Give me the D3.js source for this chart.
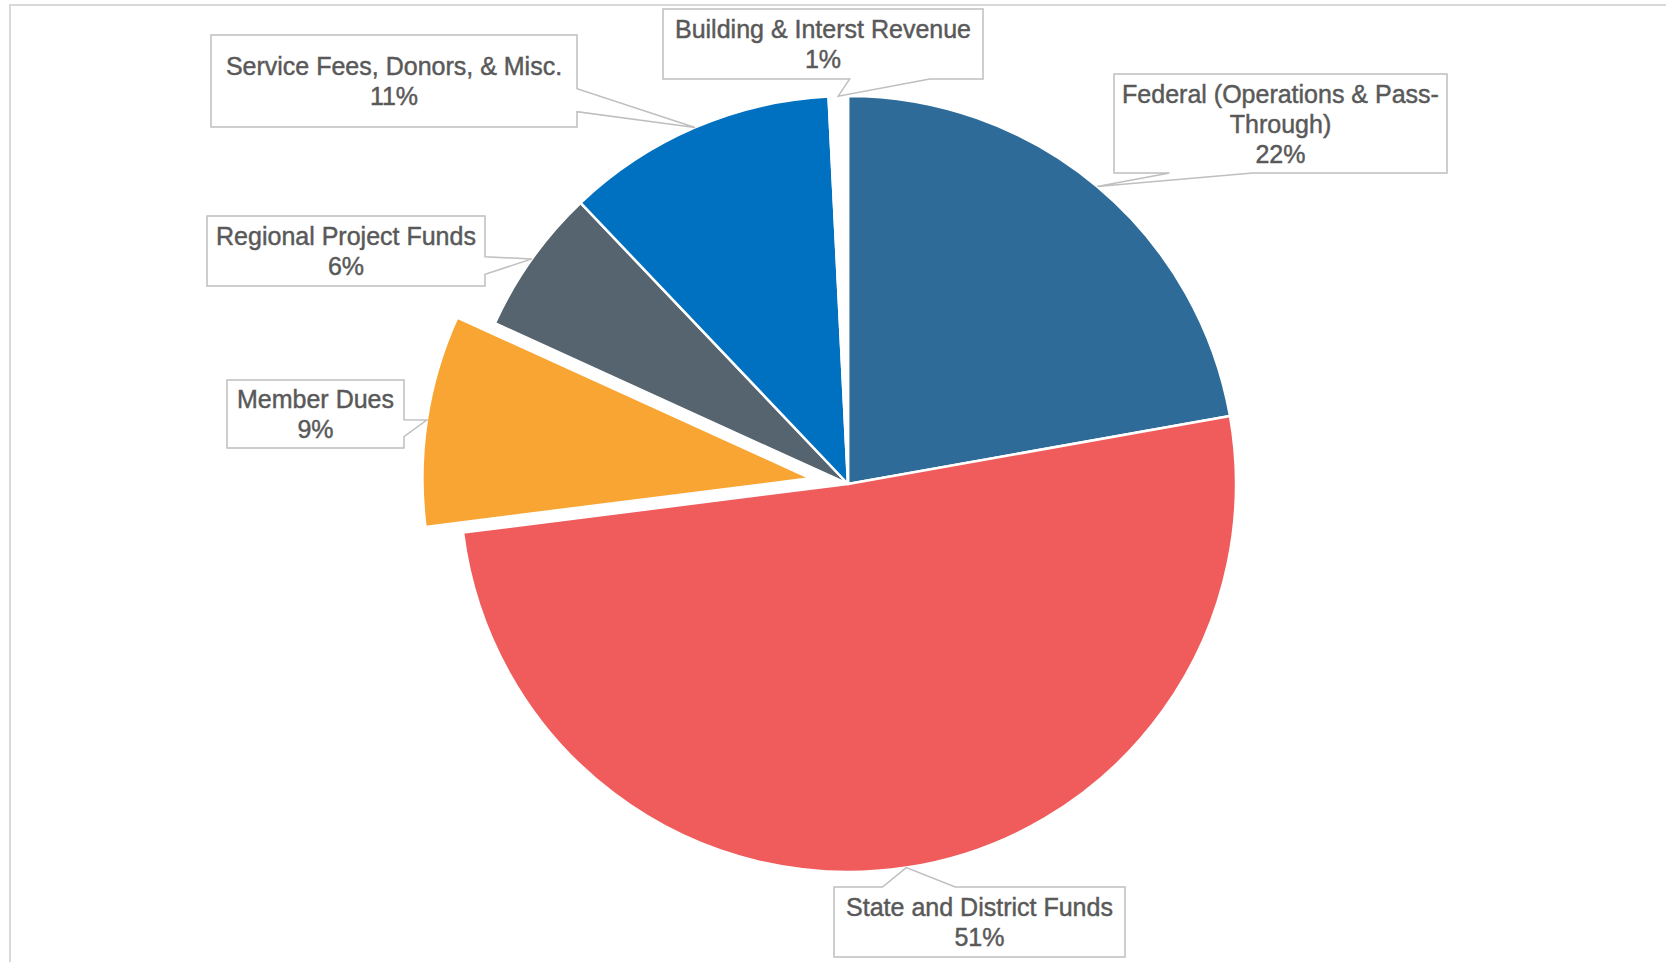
<!DOCTYPE html>
<html>
<head>
<meta charset="utf-8">
<script src="https://cdn.jsdelivr.net/npm/d3@7"></script>
<style>
  body { margin: 0; background: #fff; }
  .label-text {
    font-family: "Liberation Sans", Arial, sans-serif;
    fill: #595959;
    stroke: #595959;
    stroke-width: 0.45px;
  }
</style>
</head>
<body>
<svg id="wrapper"></svg>
<script>
// 1. Data
const categories = [
  "Federal (Operations & Pass-|Through)",
  "State and District Funds",
  "Member Dues",
  "Regional Project Funds",
  "Service Fees, Donors, & Misc.",
  "Building & Interst Revenue"
];
const shares = [22.2, 50.8, 8.8, 6.1, 11.3, 0.8];
const colors = ["#2E6B98", "#F05B5B", "#F9A533", "#55646E", "#0070C0", "#FFFFFF"];
const exploded = [0, 0, 38, 0, 0, 0];

// callout boxes: center x, center y, width, height
const callouts = [
  [1280.5, 123.5, 333, 99],
  [979.5, 922, 291, 70],
  [315.5, 414, 177, 68],
  [346, 251, 278, 70],
  [394, 81, 366, 92],
  [823, 44, 320, 70]
];

// 2. Dimensions
const dimensions = {
  width: 1666,
  height: 962,
  cx: 848,
  cy: 484,
  radius: 388
};

const wrapper = d3.select("#wrapper")
  .attr("width", dimensions.width)
  .attr("height", dimensions.height);

// chart area border (runs off the right/bottom)
wrapper.append("rect")
  .attr("x", 10)
  .attr("y", 5)
  .attr("width", dimensions.width + 50)
  .attr("height", dimensions.height + 50)
  .attr("fill", "none")
  .attr("stroke", "#D9D9D9")
  .attr("stroke-width", 2);

const bounds = wrapper.append("g")
  .attr("transform", `translate(${dimensions.cx}, ${dimensions.cy})`);

// 3. Pie layout
const data = categories.map((c, i) => ({ name: c, value: shares[i], i }));
const total = d3.sum(shares);
const pctFormat = d3.format(".0%");

const pie = d3.pie().sort(null).value(d => d.value);
const arcs = pie(data);

const arc = d3.arc().innerRadius(0).outerRadius(dimensions.radius);
const edgeArc = d3.arc().innerRadius(dimensions.radius).outerRadius(dimensions.radius);

const offset = d => {
  const mid = (d.startAngle + d.endAngle) / 2;
  const e = exploded[d.data.i];
  return [e * Math.sin(mid), -e * Math.cos(mid)];
};

// 4. Draw slices
bounds.selectAll(".slice")
  .data(arcs)
  .join("path")
  .attr("class", "slice")
  .attr("d", arc)
  .attr("transform", d => `translate(${offset(d)})`)
  .attr("fill", d => colors[d.data.i])
  .attr("stroke", "#fff")
  .attr("stroke-width", 2.5)
  .attr("stroke-linejoin", "round");

// 5. Callouts (wedge rectangle, like Excel data callouts)
function calloutPath(box, tip) {
  const [cx, cy, w, h] = box;
  const l = cx - w / 2, t = cy - h / 2, r = cx + w / 2, b = cy + h / 2;
  const dx = tip[0] - cx, dy = tip[1] - cy;
  const dz = Math.abs(dy) - Math.abs(dx * h / w);
  const xg1 = dx > 0 ? 7 : 2, xg2 = dx > 0 ? 10 : 5;
  const yg1 = dy > 0 ? 7 : 2, yg2 = dy > 0 ? 10 : 5;
  const x1 = l + w * xg1 / 12, x2 = l + w * xg2 / 12;
  const y1 = t + h * yg1 / 12, y2 = t + h * yg2 / 12;
  const p = d3.path();
  p.moveTo(l, t);
  if (dz > 0 && dy < 0) { p.lineTo(x1, t); p.lineTo(tip[0], tip[1]); p.lineTo(x2, t); }
  p.lineTo(r, t);
  if (dz <= 0 && dx > 0) { p.lineTo(r, y1); p.lineTo(tip[0], tip[1]); p.lineTo(r, y2); }
  p.lineTo(r, b);
  if (dz > 0 && dy > 0) { p.lineTo(x2, b); p.lineTo(tip[0], tip[1]); p.lineTo(x1, b); }
  p.lineTo(l, b);
  if (dz <= 0 && dx < 0) { p.lineTo(l, y2); p.lineTo(tip[0], tip[1]); p.lineTo(l, y1); }
  p.closePath();
  return p.toString();
}

const labels = wrapper.append("g").selectAll(".label")
  .data(arcs)
  .join("g")
  .attr("class", "label");

labels.append("path")
  .attr("d", d => {
    const o = offset(d);
    const c = edgeArc.centroid(d);
    const tip = [dimensions.cx + c[0] + o[0], dimensions.cy + c[1] + o[1]];
    return calloutPath(callouts[d.data.i], tip);
  })
  .attr("fill", "#fff")
  .attr("stroke", "#BFBFBF")
  .attr("stroke-width", 1.5);

const lineHeight = 30;
labels.append("text")
  .attr("class", "label-text")
  .attr("text-anchor", "middle")
  .style("font-size", "25px")
  .each(function (d) {
    const lines = d.data.name.split("|").concat(pctFormat(d.data.value / total));
    const [cx, cy] = callouts[d.data.i];
    const y0 = cy - (lines.length - 1) * lineHeight / 2 + 9;
    d3.select(this).selectAll("tspan")
      .data(lines)
      .join("tspan")
      .attr("x", cx)
      .attr("y", (l, j) => y0 + j * lineHeight)
      .text(l => l);
  });
</script>
</body>
</html>
